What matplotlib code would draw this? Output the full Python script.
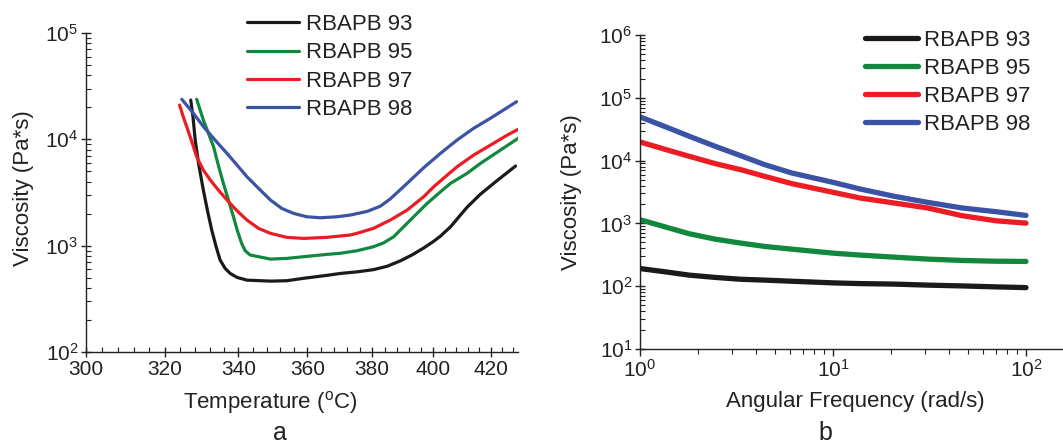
import numpy as np
import matplotlib
matplotlib.use("Agg")
import matplotlib.pyplot as plt
from matplotlib.ticker import FixedLocator, MultipleLocator, LogLocator, NullFormatter, LogFormatterMathtext

plt.rcParams['font.family'] = ['Liberation Sans', 'DejaVu Sans']
plt.rcParams['mathtext.fontset'] = 'custom'
plt.rcParams['mathtext.rm'] = 'Liberation Sans'
plt.rcParams['mathtext.it'] = 'Liberation Sans'
plt.rcParams['mathtext.default'] = 'regular'

labels = ['RBAPB 93', 'RBAPB 95', 'RBAPB 97', 'RBAPB 98']
colors = ['#1a1a1a', '#12883e', '#ec1c24', '#3a53a4']

# ---- panel a: viscosity (Pa*s) vs temperature (deg C) ----
T93 = [326.9, 327.5, 328.1, 329.0, 330.3, 331.4, 332.6, 333.8, 334.9, 336.3, 337.7, 339.6, 342.4,
       349.1, 353.9, 358.8, 365.9, 370.0, 375.2, 380.4, 384.8, 389.1, 393.0, 396.8, 400.2, 402.5,
       405.9, 408.2, 411.7, 416.4, 422.4, 429.1]
V93 = [23400, 16300, 9850, 5940, 3340, 2160, 1400, 977, 733, 611, 548, 503, 474,
       464, 468, 493, 526, 548, 567, 595, 640, 720, 820, 950, 1100, 1230,
       1500, 1780, 2300, 3050, 4100, 5610]

T95 = [328.5, 330.3, 333.1, 334.4, 335.8, 337.2, 338.6, 339.8, 340.9, 341.9, 343.3, 349.1, 353.9,
       358.8, 365.9, 370.0, 375.2, 380.4, 383.7, 386.9, 391.3, 394.6, 398.0, 402.5, 405.9, 411.7,
       416.4, 423.6, 430.0]
V95 = [23800, 15200, 8510, 5730, 3850, 2690, 1870, 1352, 1050, 896, 817, 748, 759,
       787, 828, 848, 896, 977, 1064, 1213, 1622, 2010, 2500, 3210, 3850, 4790,
       5940, 7930, 10200]

T97 = [323.9, 324.9, 325.8, 327.2, 328.5, 330.3, 332.2, 334.4, 336.8, 339.6, 342.4, 345.7, 349.1,
       353.9, 358.8, 365.9, 373.1, 375.2, 380.4, 385.8, 391.3, 396.8, 400.2, 404.8, 408.2, 414.0,
       420.0, 426.1, 430.0]
V97 = [21000, 16300, 13200, 9490, 6850, 5140, 4140, 3340, 2690, 2130, 1740, 1455, 1306,
       1197, 1170, 1197, 1260, 1306, 1455, 1740, 2160, 2880, 3580, 4610, 5520, 7110,
       8830, 10970, 12400]

T98 = [324.5, 327.6, 330.3, 333.5, 336.8, 339.6, 342.4, 345.7, 349.1, 352.4, 355.9, 359.8, 363.9,
       369.0, 373.1, 378.4, 382.6, 385.8, 391.3, 396.8, 402.5, 408.2, 414.0, 420.0, 429.5]
V98 = [23800, 17600, 13200, 9850, 7380, 5730, 4450, 3460, 2690, 2240, 2010, 1870, 1830,
       1870, 1940, 2100, 2350, 2750, 3850, 5400, 7380, 9850, 12700, 15800, 22600]

temp_ticks = [300, 320, 340, 360, 380, 400, 420]

# ---- panel b: viscosity (Pa*s) vs angular frequency (rad/s) ----
F = [1.0, 1.36, 1.8, 2.45, 3.32, 4.42, 6.11, 10.0, 13.8, 20.8, 31.0, 46.7, 70.0, 100.0]
B93 = [191, 169, 150, 138, 129, 125, 120, 113, 110, 108, 104, 101, 97.5, 95]
B95 = [1145, 874, 684, 562, 486, 430, 389, 336, 313, 290, 270, 257, 250, 248]
B97 = [19800, 15000, 11700, 8960, 7180, 5620, 4300, 3130, 2540, 2110, 1760, 1325, 1100, 1010]
B98 = [49700, 34400, 24400, 16900, 12000, 8630, 6350, 4510, 3530, 2700, 2160, 1760, 1535, 1340]

W, H = 1063, 446
fig = plt.figure(figsize=(W / 100, H / 100), dpi=100)

def rect(x0, y0, x1, y1):
    return [x0 / W, 1 - y1 / H, (x1 - x0) / W, (y1 - y0) / H]

fs_lab = 16
fs_tick = 15
ink = '#222222'

# Panel a
axa = fig.add_axes(rect(86, 33, 518, 352))
fwd = lambda t: -1.0 / (np.asarray(t, dtype=float) + 273.15)
inv = lambda u: -1.0 / np.asarray(u, dtype=float) - 273.15
axa.set_xscale('function', functions=(fwd, inv))
axa.set_yscale('log')
for T, V, c, l in zip([T93, T95, T97, T98], [V93, V95, V97, V98], colors, labels):
    axa.plot(T, V, color=c, lw=2.3, label=l, solid_capstyle='round', solid_joinstyle='round')
axa.set_xlim(300, 430)
axa.set_ylim(1e2, 1e5)
axa.xaxis.set_major_locator(FixedLocator(temp_ticks))
axa.xaxis.set_minor_locator(MultipleLocator(4))
axa.xaxis.set_minor_formatter(NullFormatter())
axa.set_xticklabels([str(t) for t in temp_ticks])
axa.set_xlabel('Temperature ($^{\\mathregular{o}}$C)', fontsize=fs_lab, va='center')
axa.set_ylabel('Viscosity (Pa*s)', fontsize=fs_lab, va='center')
axa.xaxis.set_label_coords((270 - 86) / 432, -(403 - 352) / 319)
axa.yaxis.set_label_coords(-(86 - 24) / 432, (352 - 188) / 319)
axa.text((280 - 86) / 432, -(433 - 352) / 319, 'a', transform=axa.transAxes,
         ha='center', va='center', fontsize=18, color=ink)
axa.legend(loc='upper left', bbox_to_anchor=(247 / W, 1 - 14 / H),
           bbox_transform=fig.transFigure, frameon=False, fontsize=fs_lab,
           handlelength=2.35, handletextpad=0.3, labelspacing=0.33,
           borderpad=0, borderaxespad=0)

# Panel b
axb = fig.add_axes(rect(640, 35, 1063, 349))
axb.set_xscale('log')
axb.set_yscale('log')
for V, c, l in zip([B93, B95, B97, B98], colors, labels):
    axb.plot(F, V, color=c, lw=3.8, label=l, solid_capstyle='round', solid_joinstyle='round')
axb.set_xlim(1, 10 ** ((1063 - 640) / 193))
axb.set_ylim(1e1, 1e6)
axb.xaxis.set_major_locator(FixedLocator([1, 10, 100]))
axb.xaxis.set_major_formatter(LogFormatterMathtext())
axb.set_xlabel('Angular Frequency (rad/s)', fontsize=fs_lab, va='center')
axb.set_ylabel('Viscosity (Pa*s)', fontsize=fs_lab, va='center')
axb.xaxis.set_label_coords((855 - 640) / 423, -(401 - 349) / 314)
axb.yaxis.set_label_coords(-(640 - 572) / 423, (349 - 192) / 314)
axb.text((825 - 640) / 423, -(433 - 349) / 314, 'b', transform=axb.transAxes,
         ha='center', va='center', fontsize=18, color=ink)
axb.legend(loc='upper left', bbox_to_anchor=(865 / W, 1 - 30 / H),
           bbox_transform=fig.transFigure, frameon=False, fontsize=fs_lab,
           handlelength=2.4, handletextpad=0.25, labelspacing=0.31,
           borderpad=0, borderaxespad=0)

for ax in (axa, axb):
    for s in ('top', 'right'):
        ax.spines[s].set_visible(False)
    for s in ('left', 'bottom'):
        ax.spines[s].set_linewidth(1.0)
        ax.spines[s].set_color(ink)
    ax.yaxis.set_major_locator(LogLocator(base=10, numticks=10))
    ax.yaxis.set_minor_locator(LogLocator(base=10, subs=np.arange(2, 10), numticks=10))
    ax.yaxis.set_minor_formatter(NullFormatter())
    ax.tick_params(which='major', direction='inout', length=7, width=1.0,
                   labelsize=fs_tick, colors=ink, pad=2)
    ax.tick_params(which='minor', direction='in', length=3.5, width=0.8, colors=ink)
    ax.xaxis.label.set_color(ink)
    ax.yaxis.label.set_color(ink)
    for t in ax.get_legend().get_texts():
        t.set_color(ink)

axb.tick_params(axis='x', which='major', direction='out', length=5)
axb.tick_params(axis='x', which='minor', direction='out', length=3.5)

fig.savefig('out.png', dpi=100)
